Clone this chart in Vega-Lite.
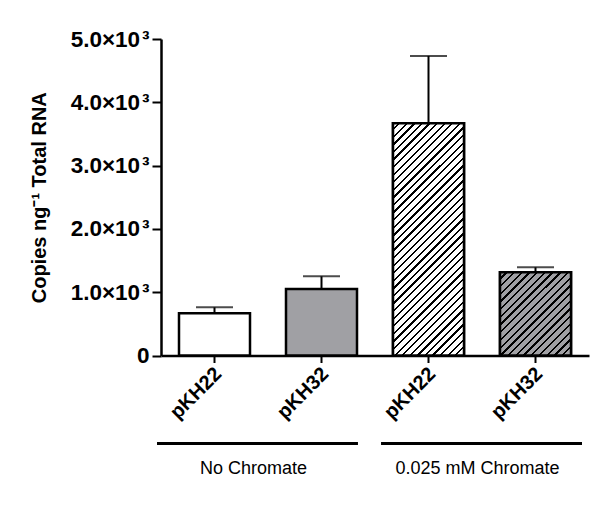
{
  "$schema": "https://vega.github.io/schema/vega-lite/v6.json",
  "padding": {"left": 29, "top": 28, "right": 5, "bottom": 5},
  "spacing": 19,
  "config": {"view": {"stroke": null}, "font": "Liberation Sans"},
  "vconcat": [
    {
      "width": 428,
      "height": 316.5,
      "data": {"values": [
        {"bar": "pKH22|No Chromate", "plasmid": "pKH22", "group": "No Chromate", "mean": 667, "upper": 761},
        {"bar": "pKH32|No Chromate", "plasmid": "pKH32", "group": "No Chromate", "mean": 1051, "upper": 1251},
        {"bar": "pKH22|0.025 mM Chromate", "plasmid": "pKH22", "group": "0.025 mM Chromate", "mean": 3668, "upper": 4732},
        {"bar": "pKH32|0.025 mM Chromate", "plasmid": "pKH32", "group": "0.025 mM Chromate", "mean": 1314, "upper": 1393}
      ]},
      "encoding": {
        "x": {
          "field": "bar", "type": "nominal", "sort": null,
          "scale": {"paddingInner": 0.3364, "paddingOuter": 0.1682},
          "axis": {
            "title": null,
            "labelExpr": "split(datum.value, '|')[0]",
            "labelAngle": -45, "labelAlign": "right", "labelBaseline": "middle",
            "labelFontSize": 20, "labelFontWeight": "bold", "labelColor": "#000",
            "labelPadding": 8, "labelOffset": 4,
            "domainColor": "#000", "domainWidth": 2.5,
            "tickColor": "#000", "tickWidth": 2, "tickSize": 7
          }
        },
        "y": {
          "field": "mean", "type": "quantitative",
          "scale": {"domain": [0, 5000], "nice": false},
          "axis": {
            "values": [0, 1000, 2000, 3000, 4000, 5000],
            "labelExpr": "datum.value == 0 ? '0' : format(datum.value / 1000, '.1f') + '×10\u200a³'",
            "grid": false,
            "title": "Copies ng⁻¹ Total RNA",
            "titleFontSize": 20, "titleFontWeight": "bold", "titleColor": "#000", "titlePadding": 21,
            "labelFontSize": 22.5, "labelFontWeight": "bold", "labelColor": "#000", "labelPadding": 3,
            "labelFlush": false, "labelOverlap": false,
            "domainColor": "#000", "domainWidth": 2.5,
            "tickColor": "#000", "tickWidth": 2, "tickSize": 9
          }
        }
      },
      "layer": [
        {
          "mark": {"type": "rule", "color": "#000", "strokeWidth": 2},
          "encoding": {"y2": {"field": "upper"}}
        },
        {
          "mark": {"type": "tick", "color": "#000", "size": 37, "thickness": 2},
          "encoding": {"y": {"field": "upper", "type": "quantitative"}}
        },
        {
          "mark": {"type": "bar", "stroke": "#000", "strokeWidth": 2.5},
          "encoding": {
            "fill": {"field": "plasmid", "type": "nominal", "scale": {"range": ["#ffffff", "#a0a0a4"]}, "legend": null}
          }
        },
        {
          "transform": [{"filter": "datum.bar == 'pKH22|0.025 mM Chromate'"}],
          "mark": {
            "type": "bar", "stroke": "#000", "strokeWidth": 2.5,
            "fill": {
              "gradient": "linear", "x1": 0, "y1": 0, "x2": 0.36513, "y2": 1.19413,
              "stops": [
                {"offset": 0, "color": "#fff"}, {"offset": 0.0175, "color": "#fff"}, {"offset": 0.0175, "color": "#000"}, {"offset": 0.025, "color": "#000"},
                {"offset": 0.025, "color": "#fff"}, {"offset": 0.0425, "color": "#fff"}, {"offset": 0.0425, "color": "#000"}, {"offset": 0.05, "color": "#000"},
                {"offset": 0.05, "color": "#fff"}, {"offset": 0.0675, "color": "#fff"}, {"offset": 0.0675, "color": "#000"}, {"offset": 0.075, "color": "#000"},
                {"offset": 0.075, "color": "#fff"}, {"offset": 0.0925, "color": "#fff"}, {"offset": 0.0925, "color": "#000"}, {"offset": 0.1, "color": "#000"},
                {"offset": 0.1, "color": "#fff"}, {"offset": 0.1175, "color": "#fff"}, {"offset": 0.1175, "color": "#000"}, {"offset": 0.125, "color": "#000"},
                {"offset": 0.125, "color": "#fff"}, {"offset": 0.1425, "color": "#fff"}, {"offset": 0.1425, "color": "#000"}, {"offset": 0.15, "color": "#000"},
                {"offset": 0.15, "color": "#fff"}, {"offset": 0.1675, "color": "#fff"}, {"offset": 0.1675, "color": "#000"}, {"offset": 0.175, "color": "#000"},
                {"offset": 0.175, "color": "#fff"}, {"offset": 0.1925, "color": "#fff"}, {"offset": 0.1925, "color": "#000"}, {"offset": 0.2, "color": "#000"},
                {"offset": 0.2, "color": "#fff"}, {"offset": 0.2175, "color": "#fff"}, {"offset": 0.2175, "color": "#000"}, {"offset": 0.225, "color": "#000"},
                {"offset": 0.225, "color": "#fff"}, {"offset": 0.2425, "color": "#fff"}, {"offset": 0.2425, "color": "#000"}, {"offset": 0.25, "color": "#000"},
                {"offset": 0.25, "color": "#fff"}, {"offset": 0.2675, "color": "#fff"}, {"offset": 0.2675, "color": "#000"}, {"offset": 0.275, "color": "#000"},
                {"offset": 0.275, "color": "#fff"}, {"offset": 0.2925, "color": "#fff"}, {"offset": 0.2925, "color": "#000"}, {"offset": 0.3, "color": "#000"},
                {"offset": 0.3, "color": "#fff"}, {"offset": 0.3175, "color": "#fff"}, {"offset": 0.3175, "color": "#000"}, {"offset": 0.325, "color": "#000"},
                {"offset": 0.325, "color": "#fff"}, {"offset": 0.3425, "color": "#fff"}, {"offset": 0.3425, "color": "#000"}, {"offset": 0.35, "color": "#000"},
                {"offset": 0.35, "color": "#fff"}, {"offset": 0.3675, "color": "#fff"}, {"offset": 0.3675, "color": "#000"}, {"offset": 0.375, "color": "#000"},
                {"offset": 0.375, "color": "#fff"}, {"offset": 0.3925, "color": "#fff"}, {"offset": 0.3925, "color": "#000"}, {"offset": 0.4, "color": "#000"},
                {"offset": 0.4, "color": "#fff"}, {"offset": 0.4175, "color": "#fff"}, {"offset": 0.4175, "color": "#000"}, {"offset": 0.425, "color": "#000"},
                {"offset": 0.425, "color": "#fff"}, {"offset": 0.4425, "color": "#fff"}, {"offset": 0.4425, "color": "#000"}, {"offset": 0.45, "color": "#000"},
                {"offset": 0.45, "color": "#fff"}, {"offset": 0.4675, "color": "#fff"}, {"offset": 0.4675, "color": "#000"}, {"offset": 0.475, "color": "#000"},
                {"offset": 0.475, "color": "#fff"}, {"offset": 0.4925, "color": "#fff"}, {"offset": 0.4925, "color": "#000"}, {"offset": 0.5, "color": "#000"},
                {"offset": 0.5, "color": "#fff"}, {"offset": 0.5175, "color": "#fff"}, {"offset": 0.5175, "color": "#000"}, {"offset": 0.525, "color": "#000"},
                {"offset": 0.525, "color": "#fff"}, {"offset": 0.5425, "color": "#fff"}, {"offset": 0.5425, "color": "#000"}, {"offset": 0.55, "color": "#000"},
                {"offset": 0.55, "color": "#fff"}, {"offset": 0.5675, "color": "#fff"}, {"offset": 0.5675, "color": "#000"}, {"offset": 0.575, "color": "#000"},
                {"offset": 0.575, "color": "#fff"}, {"offset": 0.5925, "color": "#fff"}, {"offset": 0.5925, "color": "#000"}, {"offset": 0.6, "color": "#000"},
                {"offset": 0.6, "color": "#fff"}, {"offset": 0.6175, "color": "#fff"}, {"offset": 0.6175, "color": "#000"}, {"offset": 0.625, "color": "#000"},
                {"offset": 0.625, "color": "#fff"}, {"offset": 0.6425, "color": "#fff"}, {"offset": 0.6425, "color": "#000"}, {"offset": 0.65, "color": "#000"},
                {"offset": 0.65, "color": "#fff"}, {"offset": 0.6675, "color": "#fff"}, {"offset": 0.6675, "color": "#000"}, {"offset": 0.675, "color": "#000"},
                {"offset": 0.675, "color": "#fff"}, {"offset": 0.6925, "color": "#fff"}, {"offset": 0.6925, "color": "#000"}, {"offset": 0.7, "color": "#000"},
                {"offset": 0.7, "color": "#fff"}, {"offset": 0.7175, "color": "#fff"}, {"offset": 0.7175, "color": "#000"}, {"offset": 0.725, "color": "#000"},
                {"offset": 0.725, "color": "#fff"}, {"offset": 0.7425, "color": "#fff"}, {"offset": 0.7425, "color": "#000"}, {"offset": 0.75, "color": "#000"},
                {"offset": 0.75, "color": "#fff"}, {"offset": 0.7675, "color": "#fff"}, {"offset": 0.7675, "color": "#000"}, {"offset": 0.775, "color": "#000"},
                {"offset": 0.775, "color": "#fff"}, {"offset": 0.7925, "color": "#fff"}, {"offset": 0.7925, "color": "#000"}, {"offset": 0.8, "color": "#000"},
                {"offset": 0.8, "color": "#fff"}, {"offset": 0.8175, "color": "#fff"}, {"offset": 0.8175, "color": "#000"}, {"offset": 0.825, "color": "#000"},
                {"offset": 0.825, "color": "#fff"}, {"offset": 0.8425, "color": "#fff"}, {"offset": 0.8425, "color": "#000"}, {"offset": 0.85, "color": "#000"},
                {"offset": 0.85, "color": "#fff"}, {"offset": 0.8675, "color": "#fff"}, {"offset": 0.8675, "color": "#000"}, {"offset": 0.875, "color": "#000"},
                {"offset": 0.875, "color": "#fff"}, {"offset": 0.8925, "color": "#fff"}, {"offset": 0.8925, "color": "#000"}, {"offset": 0.9, "color": "#000"},
                {"offset": 0.9, "color": "#fff"}, {"offset": 0.9175, "color": "#fff"}, {"offset": 0.9175, "color": "#000"}, {"offset": 0.925, "color": "#000"},
                {"offset": 0.925, "color": "#fff"}, {"offset": 0.9425, "color": "#fff"}, {"offset": 0.9425, "color": "#000"}, {"offset": 0.95, "color": "#000"},
                {"offset": 0.95, "color": "#fff"}, {"offset": 0.9675, "color": "#fff"}, {"offset": 0.9675, "color": "#000"}, {"offset": 0.975, "color": "#000"},
                {"offset": 0.975, "color": "#fff"}, {"offset": 0.9925, "color": "#fff"}, {"offset": 0.9925, "color": "#000"}, {"offset": 1, "color": "#000"}
              ]
            }
          }
        },
        {
          "transform": [{"filter": "datum.bar == 'pKH32|0.025 mM Chromate'"}],
          "mark": {
            "type": "bar", "stroke": "#000", "strokeWidth": 2.5,
            "fill": {
              "gradient": "linear", "x1": 0, "y1": 0, "x2": 0.91516, "y2": 1.0724,
              "stops": [
                {"offset": 0, "color": "#a0a0a4"}, {"offset": 0.035, "color": "#a0a0a4"}, {"offset": 0.035, "color": "#000"}, {"offset": 0.05, "color": "#000"},
                {"offset": 0.05, "color": "#a0a0a4"}, {"offset": 0.085, "color": "#a0a0a4"}, {"offset": 0.085, "color": "#000"}, {"offset": 0.1, "color": "#000"},
                {"offset": 0.1, "color": "#a0a0a4"}, {"offset": 0.135, "color": "#a0a0a4"}, {"offset": 0.135, "color": "#000"}, {"offset": 0.15, "color": "#000"},
                {"offset": 0.15, "color": "#a0a0a4"}, {"offset": 0.185, "color": "#a0a0a4"}, {"offset": 0.185, "color": "#000"}, {"offset": 0.2, "color": "#000"},
                {"offset": 0.2, "color": "#a0a0a4"}, {"offset": 0.235, "color": "#a0a0a4"}, {"offset": 0.235, "color": "#000"}, {"offset": 0.25, "color": "#000"},
                {"offset": 0.25, "color": "#a0a0a4"}, {"offset": 0.285, "color": "#a0a0a4"}, {"offset": 0.285, "color": "#000"}, {"offset": 0.3, "color": "#000"},
                {"offset": 0.3, "color": "#a0a0a4"}, {"offset": 0.335, "color": "#a0a0a4"}, {"offset": 0.335, "color": "#000"}, {"offset": 0.35, "color": "#000"},
                {"offset": 0.35, "color": "#a0a0a4"}, {"offset": 0.385, "color": "#a0a0a4"}, {"offset": 0.385, "color": "#000"}, {"offset": 0.4, "color": "#000"},
                {"offset": 0.4, "color": "#a0a0a4"}, {"offset": 0.435, "color": "#a0a0a4"}, {"offset": 0.435, "color": "#000"}, {"offset": 0.45, "color": "#000"},
                {"offset": 0.45, "color": "#a0a0a4"}, {"offset": 0.485, "color": "#a0a0a4"}, {"offset": 0.485, "color": "#000"}, {"offset": 0.5, "color": "#000"},
                {"offset": 0.5, "color": "#a0a0a4"}, {"offset": 0.535, "color": "#a0a0a4"}, {"offset": 0.535, "color": "#000"}, {"offset": 0.55, "color": "#000"},
                {"offset": 0.55, "color": "#a0a0a4"}, {"offset": 0.585, "color": "#a0a0a4"}, {"offset": 0.585, "color": "#000"}, {"offset": 0.6, "color": "#000"},
                {"offset": 0.6, "color": "#a0a0a4"}, {"offset": 0.635, "color": "#a0a0a4"}, {"offset": 0.635, "color": "#000"}, {"offset": 0.65, "color": "#000"},
                {"offset": 0.65, "color": "#a0a0a4"}, {"offset": 0.685, "color": "#a0a0a4"}, {"offset": 0.685, "color": "#000"}, {"offset": 0.7, "color": "#000"},
                {"offset": 0.7, "color": "#a0a0a4"}, {"offset": 0.735, "color": "#a0a0a4"}, {"offset": 0.735, "color": "#000"}, {"offset": 0.75, "color": "#000"},
                {"offset": 0.75, "color": "#a0a0a4"}, {"offset": 0.785, "color": "#a0a0a4"}, {"offset": 0.785, "color": "#000"}, {"offset": 0.8, "color": "#000"},
                {"offset": 0.8, "color": "#a0a0a4"}, {"offset": 0.835, "color": "#a0a0a4"}, {"offset": 0.835, "color": "#000"}, {"offset": 0.85, "color": "#000"},
                {"offset": 0.85, "color": "#a0a0a4"}, {"offset": 0.885, "color": "#a0a0a4"}, {"offset": 0.885, "color": "#000"}, {"offset": 0.9, "color": "#000"},
                {"offset": 0.9, "color": "#a0a0a4"}, {"offset": 0.935, "color": "#a0a0a4"}, {"offset": 0.935, "color": "#000"}, {"offset": 0.95, "color": "#000"},
                {"offset": 0.95, "color": "#a0a0a4"}, {"offset": 0.985, "color": "#a0a0a4"}, {"offset": 0.985, "color": "#000"}, {"offset": 1, "color": "#000"}
              ]
            }
          }
        }
      ]
    },
    {
      "width": 428,
      "height": 3,
      "data": {"values": [
        {"group": "No Chromate"},
        {"group": "0.025 mM Chromate"}
      ]},
      "mark": {"type": "rect", "color": "#000"},
      "encoding": {
        "x": {
          "field": "group", "type": "nominal", "sort": null,
          "scale": {"range": [-4, 421], "paddingInner": 0.103, "paddingOuter": 0},
          "axis": {
            "title": null, "domain": false, "ticks": false,
            "labelAngle": 0, "labelFontSize": 18, "labelFontWeight": "normal",
            "labelColor": "#000", "labelPadding": 14, "labelOffset": -4
          }
        }
      }
    }
  ]
}
